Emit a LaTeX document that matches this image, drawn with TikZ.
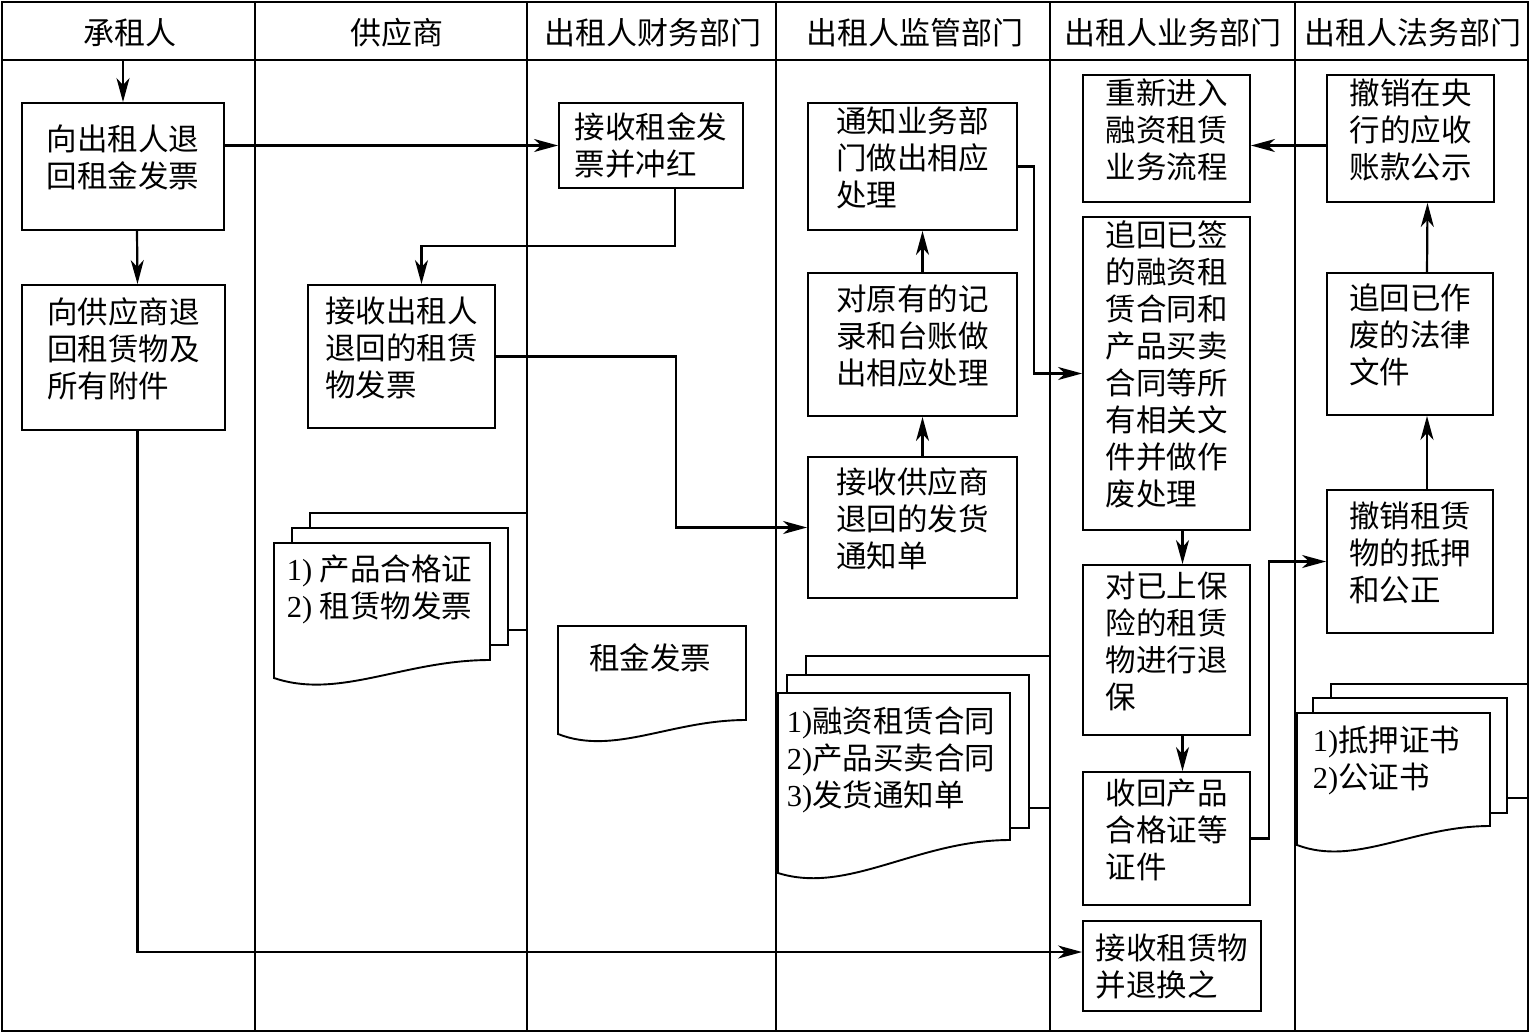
\documentclass[tikz,border=0pt]{standalone}
\usepackage{fontspec}
\setmainfont{Liberation Serif}
\newfontfamily\cjk{Noto Sans CJK SC}
\usetikzlibrary{arrows.meta}

\begin{document}
\begin{tikzpicture}[x=1pt, y=-1pt, line width=1.9pt,
	every node/.style={font=\cjk\fontsize{30.5pt}{37pt}\selectfont, inner sep=0pt, align=left},
	plainbox/.style 2 args={draw, minimum width=#1pt, minimum height=#2pt},
	box/.style 2 args={plainbox={#1}{#2}, execute at end node={\rule[-20pt]{0pt}{20pt}}},
	arr/.style={line width=2.2pt, -{Stealth[length=24pt, width=13pt, inset=7pt]}},
	lane/.style={line width=1.4pt},
	head/.style={font=\cjk\fontsize{31pt}{37pt}\selectfont},
	page/.style={draw, fill=white}]
	\useasboundingbox (0,0) rectangle (1530,1034);

	% swimlanes
	\draw[line width=2.4pt] (2,2) rectangle (1528,1031);
	\draw[lane] (2,60) -- (1528,60);
	\foreach \x in {255,527,776,1050,1295}
		\draw[lane] (\x,2) -- (\x,1031);

	\node[head] (h1) at (130,33) {承租人};
	\node[head] (h2) at (397,33) {供应商};
	\node[head] (h3) at (653,33) {出租人财务部门};
	\node[head] (h4) at (915,33) {出租人监管部门};
	\node[head] (h5) at (1173,33) {出租人业务部门};
	\node[head] (h6) at (1413,33) {出租人法务部门};

	% steps
	\node[box={202}{127}] (a1) at (123,166.5) {向出租人退\\回租金发票};
	\node[box={203}{145}] (a2) at (123.5,357.5) {向供应商退\\回租赁物及\\所有附件};
	\node[box={187}{143}] (b1) at (401.5,356.5) {接收出租人\\退回的租赁\\物发票};
	\node[plainbox={184}{85}] (f1) at (651,145.5) {接收租金发\\票并冲红};
	\node[box={209}{127}] (s1) at (912.5,166.5) {通知业务部\\门做出相应\\处理};
	\node[box={209}{143}] (s2) at (912.5,344.5) {对原有的记\\录和台账做\\出相应处理};
	\node[box={209}{141}] (s3) at (912.5,527.5) {接收供应商\\退回的发货\\通知单};
	\node[box={167}{127}] (y1) at (1166.5,138.5) {重新进入\\融资租赁\\业务流程};
	\node[box={167}{313}] (y2) at (1166.5,373.5) {追回已签\\的融资租\\赁合同和\\产品买卖\\合同等所\\有相关文\\件并做作\\废处理};
	\node[box={167}{170}] (y3) at (1166.5,650) {对已上保\\险的租赁\\物进行退\\保};
	\node[box={167}{133}] (y4) at (1166.5,838.5) {收回产品\\合格证等\\证件};
	\node[plainbox={178}{90}] (y5) at (1172,966) {接收租赁物\\并退换之};
	\node[box={167}{127}] (l1) at (1410.5,138.5) {撤销在央\\行的应收\\账款公示};
	\node[box={166}{142}] (l2) at (1410,344) {追回已作\\废的法律\\文件};
	\node[box={166}{143}] (l3) at (1410,561.5) {撤销租赁\\物的抵押\\和公正};

	% documents
	\draw[page] (310,513) rectangle (527,630);
	\draw[page] (292,528) rectangle (508,645);
	\draw[page] (274,543) -- (490,543) -- (490,660) .. controls (404,660) and (339,700) .. (274,678) -- cycle;
	\node[anchor=west] (d1) at (286,589) {\textrm{1) }产品合格证\\\textrm{2) }租赁物发票};

	\draw[page] (558,626) -- (746,626) -- (746,720) .. controls (671,720) and (614,756) .. (558,734) -- cycle;
	\node (d2) at (650,658) {租金发票};

	\draw[page] (806,656) rectangle (1050,808);
	\draw[page] (787,675) rectangle (1029,828);
	\draw[page] (778,693) -- (1010,693) -- (1010,840) .. controls (917,840) and (848,895) .. (778,873) -- cycle;
	\node[anchor=west] (d3) at (786,760) {\textrm{1)}融资租赁合同\\\textrm{2)}产品买卖合同\\\textrm{3)}发货通知单};

	\draw[page] (1331,684) rectangle (1528,798);
	\draw[page] (1313,698) rectangle (1507,813);
	\draw[page] (1297,713) -- (1490,713) -- (1490,826) .. controls (1413,826) and (1355,867) .. (1297,845) -- cycle;
	\node[anchor=west] (d4) at (1312,760) {\textrm{1)}抵押证书\\\textrm{2)}公证书};

	% flow
	\coordinate (start) at (123,60);
	\draw[arr] (start) -- (a1.north);
	\draw[arr] ([xshift=14pt]a1.south) -- ([xshift=14pt]a2.north);
	\draw[arr] (f1.west -| a1.east) -- (f1.west);
	\draw[arr] ([xshift=24pt]f1.south) -- ++(0,57) -| ([xshift=20pt]b1.north);
	\draw[arr] (b1.east) -- ++(180,0) |- (s3.west);
	\draw[arr] ([xshift=10pt]s3.north) -- ([xshift=10pt]s2.south);
	\draw[arr] ([xshift=10pt]s2.north) -- ([xshift=10pt]s1.south);
	\draw[arr] (s1.east) -- ++(16,0) |- (y2.west);
	\draw[arr] ([xshift=16pt]y2.south) -- ([xshift=16pt]y3.north);
	\draw[arr] ([xshift=16pt]y3.south) -- ([xshift=16pt]y4.north);
	\draw[arr] (y4.east) -- ++(18,0) |- (l3.west);
	\draw[arr] ([xshift=17pt]l3.north) -- ([xshift=17pt]l2.south);
	\draw[arr] ([xshift=17pt]l2.north) -- ([xshift=17pt]l1.south);
	\draw[arr] ([yshift=-7pt]l1.west) -- ([yshift=-7pt]y1.east);
	\draw[arr] ([xshift=14pt]a2.south) |- ([yshift=14pt]y5.west);
\end{tikzpicture}
\end{document}
